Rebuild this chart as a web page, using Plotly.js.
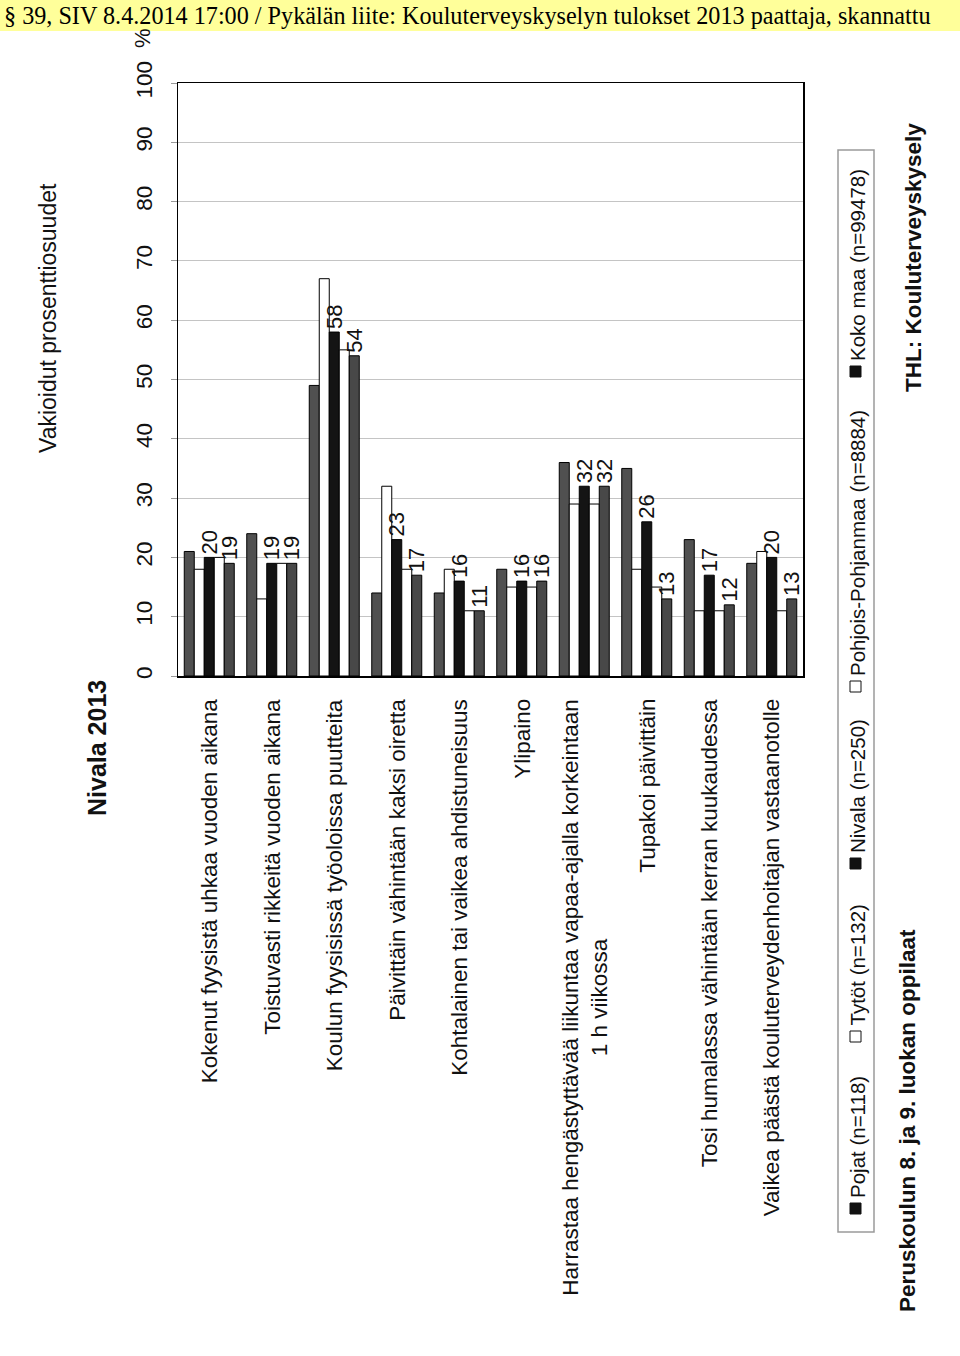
<!DOCTYPE html>
<html>
<head>
<meta charset="utf-8">
<script src="https://cdn.plot.ly/plotly-3.0.1.min.js"></script>
<style>
html,body{margin:0;padding:0;background:#fff;}
#chart{width:960px;height:1356px;}
</style>
</head>
<body>
<div id="chart"></div>
<script>
var categories = [
  "Kokenut fyysistä uhkaa vuoden aikana",
  "Toistuvasti rikkeitä vuoden aikana",
  "Koulun fyysisissä työoloissa puutteita",
  "Päivittäin vähintään kaksi oiretta",
  "Kohtalainen tai vaikea ahdistuneisuus",
  "Ylipaino",
  "Harrastaa hengästyttävää liikuntaa vapaa-ajalla korkeintaan<br>1 h viikossa",
  "Tupakoi päivittäin",
  "Tosi humalassa vähintään kerran kuukaudessa",
  "Vaikea päästä kouluterveydenhoitajan vastaanotolle"
];
var pojat    = [21, 24, 49, 14, 14, 18, 36, 35, 23, 19];
var tytot    = [18, 13, 67, 32, 18, 15, 29, 18, 11, 21];
var nivala   = [20, 19, 58, 23, 16, 16, 32, 26, 17, 20];
var pohjois  = [20, 19, 55, 18, 11, 15, 29, 15, 11, 11];
var kokomaa  = [19, 19, 54, 17, 11, 16, 32, 13, 12, 13];
var seriesNames = ["Pojat (n=118)", "Tytöt (n=132)", "Nivala (n=250)", "Pohjois-Pohjanmaa (n=8884)", "Koko maa (n=99478)"];
var yTicks = [0, 10, 20, 30, 40, 50, 60, 70, 80, 90, 100];

var colors = ["#505050", "#ffffff", "#141414", "#ffffff", "#484848"];
var seriesData = [pojat, tytot, nivala, pohjois, kokomaa];
var showText = [false, false, true, false, true];

var FONT = "Liberation Sans, Arial, sans-serif";
var traces = seriesData.map(function (vals, i) {
  var t = {
    type: "bar",
    name: seriesNames[i],
    x: categories,
    y: vals,
    marker: {color: colors[i], line: {color: "#000000", width: 1}},
    showlegend: false,
    hoverinfo: "y"
  };
  if (showText[i]) {
    t.text = vals.map(String);
    t.textposition = "outside";
    t.textangle = -90;
    t.constraintext = "none";
    t.cliponaxis = false;
    t.textfont = {family: FONT, size: 22, color: "#111"};
  }
  return t;
});

// plot area in pixels
var L = 178, R = 803, T = 83, B = 676;
function px(x) { return (x - L) / (R - L); }
function py(y) { return (B - y) / (B - T); }

function rot(text, x, y, size, xa, ya) {
  return {text: text, xref: "paper", yref: "paper", x: px(x), y: py(y), textangle: -90,
    xanchor: xa || "center", yanchor: ya || "middle", showarrow: false,
    font: {family: FONT, size: size, color: "#111"}};
}

var annotations = [
  {text: "§ 39, SIV 8.4.2014 17:00 / Pykälän liite: Kouluterveyskyselyn tulokset 2013 paattaja, skannattu",
   xref: "paper", yref: "paper", x: px(2), y: py(16), xanchor: "left", yanchor: "middle",
   showarrow: false, font: {family: "Liberation Serif, Times New Roman, serif", size: 24.2, color: "#000"}},
  rot("%", 142, 38, 22),
  rot("Vakioidut prosenttiosuudet", 48, 318, 23),
  rot("<b>Nivala 2013</b>", 97, 748, 25),
  rot("<b>Peruskoulun 8. ja 9. luokan oppilaat</b>", 907, 1121, 22.5),
  rot("<b>THL: Kouluterveyskysely</b>", 913, 258, 22.5)
];

// category labels on the category axis
categories.forEach(function (c) {
  annotations.push({text: c, xref: "x", yref: "paper", x: c, y: py(697), textangle: -90,
    xanchor: "center", yanchor: "top", align: "center", showarrow: false,
    font: {family: FONT, size: 22.5, color: "#111"}});
});

var shapes = [
  {type: "rect", xref: "paper", yref: "paper", x0: px(0), x1: px(960), y0: py(0), y1: py(31),
   fillcolor: "#ffff9a", line: {width: 0}, layer: "below"},
  {type: "rect", xref: "paper", yref: "paper", x0: px(838), x1: px(874), y0: py(150), y1: py(1232),
   fillcolor: "rgba(0,0,0,0)", line: {color: "#9a9a9a", width: 1.5}}
];

// legend built from series names
var legendBottoms = [1214, 1042, 869, 692, 377];
var SQ = 11;
seriesNames.forEach(function (n, i) {
  var yb = legendBottoms[i];
  shapes.push({type: "rect", xref: "paper", yref: "paper", x0: px(850), x1: px(850 + SQ),
    y0: py(yb), y1: py(yb - SQ), fillcolor: colors[i] === "#ffffff" ? "#ffffff" : "#111111",
    line: {color: "#111", width: 1}});
  annotations.push(rot(n, 857, yb - SQ - 3, 20.5, "center", "bottom"));
});

var layout = {
  width: 960, height: 1356,
  margin: {l: L, r: 960 - R, t: T, b: 1356 - B, pad: 0},
  paper_bgcolor: "#ffffff", plot_bgcolor: "#ffffff",
  barmode: "group", bargap: 0.2, bargroupgap: 0,
  font: {family: FONT, color: "#111"},
  showlegend: false,
  xaxis: {
    type: "category", ticks: "", showticklabels: false,
    showline: true, linecolor: "#000", linewidth: 1.5, mirror: true,
    showgrid: false
  },
  yaxis: {
    range: [0, 100], tickvals: yTicks, ticktext: yTicks.map(String), tickangle: -90,
    tickfont: {family: FONT, size: 22.5, color: "#111"},
    ticks: "outside", ticklen: 6, tickcolor: "#999",
    showline: true, linecolor: "#000", linewidth: 1.5, mirror: true,
    showgrid: true, gridcolor: "#c4c4c4", gridwidth: 1, zeroline: false,
    ticklabelstandoff: 10
  },
  annotations: annotations,
  shapes: shapes
};

Plotly.newPlot("chart", traces, layout, {displayModeBar: false, staticPlot: true});
</script>
</body>
</html>
